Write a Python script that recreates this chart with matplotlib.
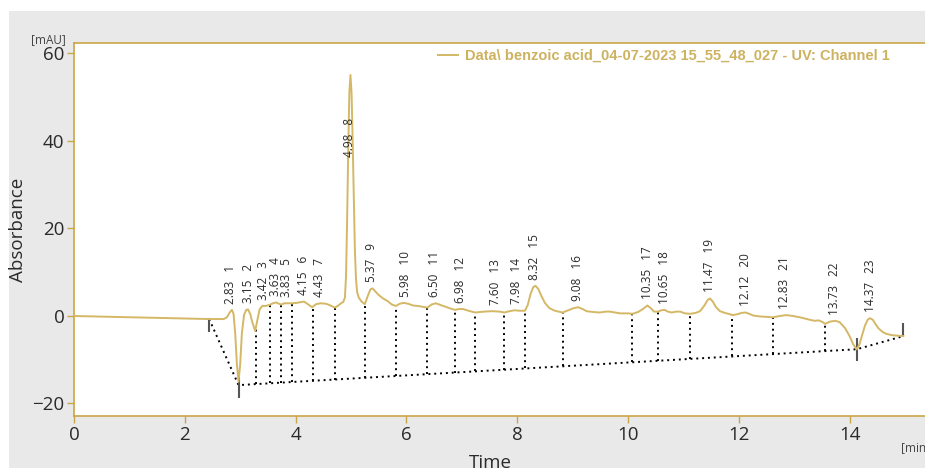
import numpy as np
import matplotlib.pyplot as plt
from matplotlib.patches import Rectangle

# UV trace, channel 1 (min, mAU)
time_min = [0.00, 2.45, 2.70, 2.76, 2.81, 2.85, 2.88, 2.91, 2.94, 2.97, 3.00, 3.03,
            3.07, 3.11, 3.14, 3.18, 3.22, 3.27, 3.31, 3.35, 3.40, 3.46, 3.52, 3.59,
            3.65, 3.70, 3.74, 3.79, 3.84, 3.93, 4.02, 4.10, 4.15, 4.21, 4.30, 4.37,
            4.45, 4.55, 4.63, 4.71, 4.77, 4.83, 4.86, 4.89, 4.91, 4.93, 4.95, 4.97,
            4.99, 5.01, 5.03, 5.05, 5.07, 5.09, 5.11, 5.14, 5.19, 5.25, 5.30, 5.35,
            5.39, 5.44, 5.50, 5.58, 5.66, 5.74, 5.81, 5.88, 5.95, 6.03, 6.12, 6.20,
            6.30, 6.38, 6.45, 6.53, 6.62, 6.73, 6.82, 6.88, 6.95, 7.02, 7.12, 7.24,
            7.40, 7.55, 7.68, 7.77, 7.86, 7.95, 8.05, 8.14, 8.19, 8.24, 8.29, 8.33,
            8.38, 8.44, 8.50, 8.58, 8.68, 8.82, 8.92, 9.02, 9.10, 9.18, 9.25, 9.38,
            9.49, 9.60, 9.67, 9.76, 9.86, 10.00, 10.08, 10.18, 10.27, 10.35, 10.41,
            10.47, 10.54, 10.60, 10.66, 10.72, 10.79, 10.87, 10.94, 11.03, 11.12,
            11.22, 11.30, 11.38, 11.44, 11.48, 11.53, 11.59, 11.66, 11.75, 11.84,
            11.89, 11.97, 12.05, 12.12, 12.19, 12.26, 12.38, 12.50, 12.62, 12.74,
            12.86, 12.98, 13.10, 13.20, 13.29, 13.37, 13.44, 13.50, 13.56, 13.64,
            13.74, 13.82, 13.92, 14.00, 14.07, 14.13, 14.18, 14.23, 14.28, 14.33,
            14.37, 14.42, 14.47, 14.52, 14.60, 14.67, 14.77, 14.87, 14.97]
absorbance = [0.00, -0.70, -0.70, -0.30, 0.80, 1.40, 0.50, -4.0, -11.0, -15.0, -11.0, -4.0,
              0.30, 1.40, 1.50, 0.50, -1.50, -3.40, -1.00, 1.50, 2.30, 2.30, 2.50, 2.90,
              3.10, 2.80, 2.60, 2.90, 2.90, 2.90, 3.00, 3.20, 3.30, 2.80, 2.00, 2.70,
              2.90, 2.80, 2.40, 1.90, 2.40, 3.00, 3.20, 4.20, 9.0, 22.0, 38.0, 51.0,
              55.1, 51.0, 40.0, 27.0, 15.0, 8.5, 5.5, 4.2, 3.3, 2.7, 4.5, 6.1,
              6.30, 5.60, 4.80, 4.00, 3.40, 2.60, 2.30, 2.80, 3.00, 2.80, 2.40, 2.30,
              2.10, 1.90, 2.60, 2.90, 2.50, 2.00, 1.60, 1.40, 1.60, 1.60, 1.20, 0.80,
              1.00, 1.10, 1.00, 0.80, 1.10, 1.30, 1.20, 1.20, 2.50, 5.00, 6.60, 6.90,
              6.20, 4.50, 3.00, 1.80, 1.20, 0.80, 1.30, 1.80, 2.00, 1.60, 1.10, 0.90,
              0.80, 1.00, 1.00, 0.80, 0.60, 0.60, 0.50, 0.90, 1.60, 2.40, 1.80,
              1.00, 1.00, 1.30, 1.40, 1.00, 0.80, 1.00, 1.00, 0.60, 0.50,
              0.70, 1.10, 2.40, 3.70, 4.00, 3.30, 2.00, 1.10, 0.70, 0.40,
              0.20, 0.40, 0.70, 0.80, 0.50, 0.10, -0.10, -0.20, -0.30, 0.00,
              0.20, 0.00, -0.30, -0.60, -0.90, -1.10, -1.00, -1.30, -1.80, -1.30,
              -1.10, -1.40, -2.80, -4.60, -6.60, -7.60, -6.40, -4.20, -2.10, -0.80,
              -0.50, -0.90, -1.90, -2.80, -3.70, -4.10, -4.40, -4.50, -4.60]

# integration results
peak_no = list(range(1, 24))
peak_rt = [2.83, 3.15, 3.42, 3.63, 3.83, 4.15, 4.43, 4.98, 5.37, 5.98, 6.50, 6.98,
           7.60, 7.98, 8.32, 9.08, 10.35, 10.65, 11.47, 12.12, 12.83, 13.73, 14.37]
peak_height = [1.4, 1.5, 2.3, 3.1, 2.9, 3.3, 2.9, 55.1, 6.3, 3.0, 2.9, 1.6,
               1.1, 1.3, 6.9, 2.0, 2.4, 1.4, 4.0, 0.8, 0.2, -1.1, -0.5]

# peak delimiters (valley drops) and baseline
drop_t = [3.28, 3.53, 3.74, 3.93, 4.31, 4.71, 5.25, 5.81, 6.38, 6.88, 7.24,
          7.77, 8.14, 8.82, 10.08, 10.54, 11.12, 11.88, 12.61, 13.56]
base_t = [2.44, 2.97, 14.13, 14.97]
base_y = [-0.7, -15.8, -7.6, -4.6]
base_tick_lo = [-3.6, -18.7, -10.4, -4.6]
base_tick_hi = [-0.5, -14.0, -5.1, -1.5]

TRACE = "#d4b866"
GOLD = "#c9a646"
TXT = "#2a2a2a"
FONT = "Open Sans"

fig = plt.figure(figsize=(9.25, 4.68), dpi=100)
fig.patch.set_facecolor("white")
fig.add_artist(Rectangle((9 / 925, 0), 1, 1 - 11 / 468, transform=fig.transFigure,
                         facecolor="#e9e9e9", edgecolor="none", zorder=-5))

ax = fig.add_axes([74 / 925, 52 / 468, 851 / 925, 373 / 468])
ax.set_facecolor("white")

ax.plot(time_min, absorbance, color=TRACE, lw=1.4, zorder=3,
        label="Data\\ benzoic acid_04-07-2023 15_55_48_027 - UV: Channel 1")

# baseline + drop lines
dots = (0, (1, 2.0))
ax.plot(base_t, base_y, color="black", lw=1.4, ls=dots, zorder=2)
for t in drop_t:
    top = np.interp(t, time_min, absorbance)
    bot = np.interp(t, base_t, base_y)
    ax.plot([t, t], [bot, top], color="black", lw=1.4, ls=dots, zorder=2)
ax.vlines(base_t, base_tick_lo, base_tick_hi, color="#555555", lw=1.5, zorder=2)

# peak labels: retention time + peak number
for n, rt, h in zip(peak_no, peak_rt, peak_height):
    off = -59 if h > 50 else 4.5
    ax.annotate(f"{rt:.2f}   {n}", (rt, h), xytext=(0, off), textcoords="offset points",
                rotation=90, ha="center", va="bottom", fontsize=8.5, color=TXT,
                family=FONT, zorder=4)

ax.set_xlim(0, 851 / 55.4)
ax.set_ylim(-22.86, 62.4)
ax.set_xticks(range(0, 15, 2))
ax.set_yticks([-20, 0, 20, 40, 60])
for side in ("left", "bottom", "top"):
    ax.spines[side].set_color(GOLD)
    ax.spines[side].set_linewidth(1.2)
ax.spines["right"].set_visible(False)
ax.tick_params(colors=GOLD, length=5, width=1.0, labelcolor=TXT, labelsize=13.5, pad=2)
for lab in ax.get_xticklabels() + ax.get_yticklabels():
    lab.set_family(FONT)

ax.set_ylabel("Absorbance", fontsize=13.5, family=FONT, color=TXT, labelpad=4)
fig.text(48 / 925, 1 - 40 / 468, "[mAU]", fontsize=8.5, family=FONT, color="#444444",
         ha="center", va="center")
fig.text(490 / 925, 1 - 454 / 468, "Time", fontsize=13.5, family=FONT, color=TXT,
         ha="center", va="top")
fig.text(901 / 925, 1 - 448 / 468, "[min", fontsize=8.5, family=FONT, color="#444444",
         ha="left", va="center")

leg = ax.legend(loc="upper left", bbox_to_anchor=(438 / 925, 1 - 49 / 468),
                bbox_transform=fig.transFigure, frameon=False, handlelength=1.4,
                handletextpad=0.45, borderpad=0, borderaxespad=0,
                prop={"family": "Liberation Sans", "weight": "bold", "size": 10.5})
for txt in leg.get_texts():
    txt.set_color("#cdb260")

fig.savefig("out.png", dpi=100)
